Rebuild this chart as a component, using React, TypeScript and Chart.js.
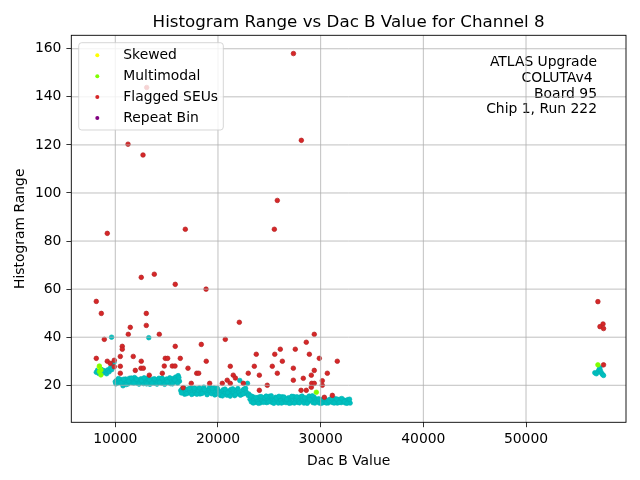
import { useEffect, useRef } from "react";
import { Chart, registerables } from "chart.js";

Chart.register(...registerables);

const titleText = "Histogram Range vs Dac B Value for Channel 8";
const xTitle = "Dac B Value";
const yTitle = "Histogram Range";
const xTicks = [10000, 20000, 30000, 40000, 50000];
const yTicks = [20, 40, 60, 80, 100, 120, 140, 160];
const xRange = [5716, 59737];
const yRange = [4.6, 165.6];
const annotationLines = ["ATLAS Upgrade", "COLUTAv4 ", " Board 95", "Chip 1, Run 222"];
const legendLabels = ["Skewed", "Multimodal", "Flagged SEUs", "Repeat Bin"];
const legendColors = ["#ffff00", "#7fff00", "#d62728", "#800080"];
const normalColor = "#00bfbf";

const normalPoints: [number, number][] = [
  [8150, 25.4], [8275, 26.3], [8400, 24.9], [8525, 25.8], [8650, 26.6], [8775, 25.2], [8900, 26.1],
  [9025, 25.5], [9150, 24.8], [9275, 26.4], [9400, 25.6], [9525, 27.2], [9650, 26.5], [9775, 28.4],
  [9875, 29.5], [9640, 40], [13260, 39.8],
  [10000, 21.5], [10125, 22], [10250, 21], [10375, 21.8], [10500, 22.4], [10625, 20.8], [10750, 19.8],
  [10875, 21.2], [11000, 22.6], [11125, 21.4], [11250, 20.6], [11375, 22.9], [11500, 21.9], [11625, 21.1],
  [11750, 22.3], [11875, 23.2], [12000, 21.6], [12125, 20.9], [12250, 22.1], [12375, 21.3], [12500, 22.7],
  [12625, 21.5], [12750, 20.7], [12875, 22], [13000, 21.2], [13125, 22.8], [13250, 21.7], [13375, 20.4],
  [13500, 21.9], [13625, 22.5], [13750, 21.1], [13875, 20.8], [14000, 22.2], [14125, 21.4], [14250, 22.9],
  [14375, 21.6], [14500, 20.9], [14625, 22.4], [14750, 21.8], [14875, 21], [15000, 22.6], [15125, 21.3],
  [15250, 22.1], [15375, 20.7], [15500, 21.9], [15625, 22.8], [15750, 21.5], [15875, 23.4], [16000, 22.2],
  [16125, 24], [16250, 21.7],
  [10060, 20.6], [10310, 22.8], [10560, 21.1], [10810, 22.5], [11060, 20.3], [11310, 21.7], [11560, 23],
  [11810, 20.9], [12060, 22.6], [12310, 20.5], [12560, 21.9], [12810, 23.1], [13060, 20.6], [13310, 22.3],
  [13560, 20.9], [13810, 22.7], [14060, 20.5], [14310, 21.2], [14560, 23], [14810, 20.4], [15060, 21.5],
  [15310, 23.1], [15560, 20.6], [15810, 22.2], [16060, 20.9], [16190, 23.2],
  [16375, 17.8], [16500, 18.4], [16625, 17.1], [16750, 16.3], [16875, 17.6], [17000, 18.2], [17125, 16.9],
  [17250, 17.4], [17375, 18.7], [17500, 17.2], [17625, 16.6], [17750, 17.9], [17875, 18.5], [18000, 17],
  [18125, 17.7], [18250, 16.4], [18375, 18.1], [18500, 17.3], [18625, 19.2], [18750, 17.6], [18875, 16.8],
  [19000, 17.9], [19125, 18.3], [19250, 17.1], [19375, 16.5], [19500, 17.7], [19625, 18.9],
  [16440, 16.8], [16690, 18.9], [16940, 16.5], [17190, 18.6], [17440, 16.2], [17690, 18.8], [17940, 16.3],
  [18190, 18.9], [18440, 16.6], [18690, 18.2], [18940, 16.1], [19190, 19.4], [19440, 18.6], [19690, 16],
  [19750, 17.2], [19875, 16.4], [20000, 17.8], [20125, 16.9], [20250, 15.8], [20375, 17.4], [20500, 18.1],
  [20625, 16.6], [20750, 17], [20875, 15.9], [21000, 17.6], [21125, 16.3], [21250, 18.2], [21375, 16.8],
  [21500, 17.3], [21625, 15.7], [21750, 17.9], [21875, 16.5], [22000, 17.1], [22125, 22], [22250, 16.2],
  [22375, 17.7], [22500, 18.3], [22625, 16.7], [22750, 17.2], [22875, 20.8], [23000, 16.4],
  [19940, 18.7], [20190, 16.2], [20440, 15.6], [20690, 18.4], [20940, 16.9], [21190, 15.5], [21440, 18.5],
  [21690, 16.1], [21940, 18.6], [22190, 15.9], [22440, 16.4], [22690, 18.7], [22940, 15.8],
  [23125, 14.2], [23250, 13.1], [23375, 15.3], [23500, 13.8], [23625, 12.9], [23750, 14.6], [23875, 13.4],
  [24000, 15.1], [24125, 12.7], [24250, 14], [24375, 13.6], [24500, 14.9], [24625, 13.2], [24750, 12.8],
  [24875, 14.4], [25000, 15.4], [25125, 13.5], [25250, 12.9], [25375, 14.1], [25500, 13.7], [25625, 15],
  [25750, 13.3], [25875, 12.6], [26000, 14.5], [26125, 13.9], [26250, 15.2], [26375, 13], [26500, 14.3],
  [26625, 12.8], [26750, 13.8], [26875, 14.8], [27000, 13.4], [27125, 12.7], [27250, 14.6], [27375, 15.3],
  [27500, 13.2], [27625, 14], [27750, 12.9], [27875, 13.7], [28000, 15.1], [28125, 13.5], [28250, 14.2],
  [28375, 12.6], [28500, 13.9], [28625, 14.7], [28750, 13.1], [28875, 15.5], [29000, 13.6], [29125, 14.4],
  [29250, 12.8], [29375, 15], [29500, 13.3], [29625, 14.1],
  [23190, 15.6], [23440, 12.6], [23690, 14.9], [23940, 12.5], [24190, 15.3], [24440, 12.9], [24690, 15.5],
  [24940, 13.1], [25190, 15.6], [25440, 12.5], [25690, 14.7], [25940, 15.4], [26190, 12.6], [26440, 15.1],
  [26690, 14.2], [26940, 12.5], [27190, 15.4], [27440, 12.6], [27690, 15.2], [27940, 12.7], [28190, 15.5],
  [28440, 14.8], [28690, 12.5], [28940, 14.1], [29190, 15.6], [29440, 12.6],
  [29750, 13.2], [29875, 12.6], [30000, 13.9], [30125, 13.4], [30250, 12.8], [30375, 14.3], [30500, 13.1],
  [30625, 13.7], [30750, 12.7], [30875, 14.1], [31000, 13.5], [31125, 12.9], [31250, 13.8], [31375, 14.4],
  [31500, 13], [31625, 12.6], [31750, 13.6], [31875, 14.2], [32000, 12.8], [32125, 13.3], [32250, 13.9],
  [32375, 12.7], [32500, 13.5], [32625, 14], [32750, 13.1], [32875, 12.6],
  [29810, 14.4], [30060, 12.5], [30310, 14.6], [30560, 12.6], [30810, 13.4], [31060, 14.5], [31310, 12.6],
  [31560, 14.3], [31810, 12.9], [32060, 14.5], [32310, 13.2], [32560, 12.5], [32810, 14.2],
  [56700, 25.2], [56850, 24.8], [57000, 25.6], [57100, 26.4], [57200, 27.3], [57250, 26], [57350, 25.1],
  [57450, 24.5], [57550, 24.1],
];

const skewedPoints: [number, number][] = [[8450, 27.6]];

const multimodalPoints: [number, number][] = [
  [8450, 28], [8600, 26.4], [8600, 24.3], [8450, 25.7], [29580, 17.1], [57000, 28.5],
];

const flaggedPoints: [number, number][] = [
  [8150, 54.9], [8640, 49.9], [8930, 39.1], [9220, 83.2], [8150, 31.2], [9220, 30], [9510, 29.1],
  [9900, 30.4], [9900, 27.7], [10490, 32], [10490, 27.9], [10490, 25], [10680, 36.2], [10680, 35],
  [11266, 41.2], [11240, 120.3], [11460, 44.1], [11750, 32], [11950, 26.2], [12500, 27.1], [12730, 27.1],
  [12530, 30], [12530, 64.9], [12700, 115.8], [13060, 143.9], [13020, 49.9], [13020, 44.9], [13310, 24.2],
  [13800, 66.2], [14286, 41.2], [14580, 25], [14770, 28], [14870, 31.2], [15100, 31.2], [15550, 28],
  [15815, 28], [15840, 36.2], [15840, 62], [16330, 31.2], [16600, 19], [16820, 84.9], [17080, 27.1],
  [17400, 20.8], [17930, 25], [18120, 25], [18376, 37], [18840, 60], [18860, 30], [19190, 20.8],
  [20420, 20.8], [20714, 39.1], [20900, 22.1], [21200, 27.9], [21200, 20.8], [21490, 24.2], [21700, 23],
  [22080, 46.2], [22470, 20.8], [22950, 25], [23540, 27.9], [23730, 32.9], [24030, 24.2], [24030, 17.9],
  [24800, 20], [25290, 27.9], [25490, 84.9], [25530, 32.9], [25780, 25], [25780, 96.9], [26070, 35],
  [26270, 30], [27340, 27.1], [27340, 22.1], [27350, 158], [27530, 35], [28120, 121.9], [28310, 22.9],
  [28090, 17.9], [28600, 17.9], [28600, 37.9], [28900, 32.9], [29090, 24.2], [29090, 19.2], [29130, 20.8],
  [29380, 20.8], [29380, 26.2], [29380, 41.2], [29870, 31.2], [30160, 21.9], [30160, 20], [30360, 15],
  [30650, 25], [31140, 15.8], [31620, 30],
  [57000, 54.8], [57500, 45.5], [57200, 44.4], [57550, 43.6], [57550, 28.5],
];

const repeatPoints: [number, number][] = [];

const FONT = '"DejaVu Sans", sans-serif';
const FS = 13.9;

const toXY = (pts: [number, number][]) => pts.map(([x, y]) => ({ x, y }));

const overlayPlugin = {
  id: "overlay",
  beforeDraw(chart: any) {
    const { ctx, width, height } = chart;
    ctx.save();
    ctx.fillStyle = "#ffffff";
    ctx.fillRect(0, 0, width, height);
    ctx.restore();
  },
  afterDatasetsDraw(chart: any) {
    const { ctx, chartArea: a, scales } = chart;
    const xs = scales.x;
    const ys = scales.y;
    ctx.save();
    // annotation text (below grid)
    ctx.font = `${FS}px ${FONT}`;
    ctx.fillStyle = "#000";
    ctx.textAlign = "right";
    ctx.textBaseline = "alphabetic";
    annotationLines.forEach((t, i) => ctx.fillText(t, a.right - 29, 65.7 + i * 15.9));
    // grid on top of points
    ctx.strokeStyle = "#b0b0b0";
    ctx.lineWidth = 0.8;
    ctx.beginPath();
    xTicks.forEach((v) => {
      const px = xs.getPixelForValue(v);
      ctx.moveTo(px, a.top);
      ctx.lineTo(px, a.bottom);
    });
    yTicks.forEach((v) => {
      const py = ys.getPixelForValue(v);
      ctx.moveTo(a.left, py);
      ctx.lineTo(a.right, py);
    });
    ctx.stroke();
    // frame
    ctx.strokeStyle = "#000";
    ctx.lineWidth = 0.9;
    ctx.strokeRect(a.left, a.top, a.right - a.left, a.bottom - a.top);
    // legend
    const lx = a.left + 7.4;
    const ly = a.top + 7.4;
    const lw = 144.6;
    const lh = 87.3;
    ctx.beginPath();
    ctx.roundRect(lx, ly, lw, lh, 3);
    ctx.fillStyle = "rgba(255,255,255,0.8)";
    ctx.fill();
    ctx.strokeStyle = "rgba(204,204,204,0.8)";
    ctx.lineWidth = 1;
    ctx.stroke();
    legendLabels.forEach((label, i) => {
      const cy = ly + 12.6 + i * 20.9;
      ctx.beginPath();
      ctx.arc(lx + 18.6, cy, 2, 0, Math.PI * 2);
      ctx.fillStyle = legendColors[i];
      ctx.fill();
      ctx.fillStyle = "#000";
      ctx.textAlign = "left";
      ctx.textBaseline = "middle";
      ctx.font = `${FS}px ${FONT}`;
      ctx.fillText(label, lx + 44.6, cy);
    });
    ctx.restore();
  },
  afterDraw(chart: any) {
    const { ctx, chartArea: a } = chart;
    ctx.save();
    ctx.font = `16.7px ${FONT}`;
    ctx.fillStyle = "#000";
    ctx.textAlign = "center";
    ctx.textBaseline = "alphabetic";
    ctx.fillText(titleText, (a.left + a.right) / 2, 26.5);
    ctx.restore();
  },
};

export default function App() {
  const ref = useRef<HTMLCanvasElement | null>(null);

  useEffect(() => {
    if (!ref.current) return;
    Chart.defaults.font.family = FONT;
    Chart.defaults.font.size = FS;
    Chart.defaults.color = "#000";
    const pointOpts = (color: string, edge: string, order: number) => ({
      backgroundColor: color,
      borderColor: edge,
      pointRadius: 2.3,
      pointBorderWidth: 0.7,
      pointHoverRadius: 2.3,
      order,
    });
    const chart = new Chart(ref.current, {
      type: "scatter",
      data: {
        datasets: [
          { label: "normal", data: toXY(normalPoints), ...pointOpts(normalColor, "#00b5b5", 5) },
          { label: legendLabels[0], data: toXY(skewedPoints), ...pointOpts(legendColors[0], legendColors[0], 4) },
          { label: legendLabels[1], data: toXY(multimodalPoints), ...pointOpts(legendColors[1], legendColors[1], 3) },
          { label: legendLabels[2], data: toXY(flaggedPoints), ...pointOpts(legendColors[2], "#b52224", 2) },
          { label: legendLabels[3], data: toXY(repeatPoints), ...pointOpts(legendColors[3], legendColors[3], 1) },
        ],
      },
      options: {
        animation: false,
        responsive: false,
        devicePixelRatio: 1,
        layout: { padding: { top: 35.3, right: 14, left: 0, bottom: 0 } },
        plugins: {
          legend: { display: false },
          tooltip: { enabled: false },
          title: { display: false },
        },
        scales: {
          x: {
            type: "linear",
            min: xRange[0],
            max: xRange[1],
            afterBuildTicks: (s: any) => {
              s.ticks = xTicks.map((v) => ({ value: v }));
            },
            afterFit: (s: any) => {
              s.height = 57.7;
            },
            grid: { drawOnChartArea: false, tickColor: "#000", tickLength: 4.9, tickWidth: 0.8 },
            border: { display: false },
            ticks: {
              padding: 4,
              color: "#000",
              font: { size: FS, family: FONT },
              maxRotation: 0,
              autoSkip: false,
              callback: (v: any) => String(v),
            },
            title: {
              display: true,
              text: xTitle,
              color: "#000",
              font: { size: FS, family: FONT },
              padding: { top: 0, bottom: 10.7 },
            },
          },
          y: {
            type: "linear",
            min: yRange[0],
            max: yRange[1],
            afterBuildTicks: (s: any) => {
              s.ticks = yTicks.map((v) => ({ value: v }));
            },
            afterFit: (s: any) => {
              s.width = 71.3;
            },
            grid: { drawOnChartArea: false, tickColor: "#000", tickLength: 4.9, tickWidth: 0.8 },
            border: { display: false },
            ticks: {
              padding: 5,
              color: "#000",
              font: { size: FS, family: FONT },
              autoSkip: false,
              callback: (v: any) => String(v),
            },
            title: {
              display: true,
              text: yTitle,
              color: "#000",
              font: { size: FS, family: FONT },
              padding: { top: 12.4, bottom: 0 },
            },
          },
        },
      },
      plugins: [overlayPlugin],
    });
    return () => chart.destroy();
  }, []);

  return (
    <div style={{ position: "absolute", left: 0, top: 0, width: 640, height: 480 }}>
      <canvas ref={ref} width={640} height={480} style={{ width: 640, height: 480 }} />
    </div>
  );
}
